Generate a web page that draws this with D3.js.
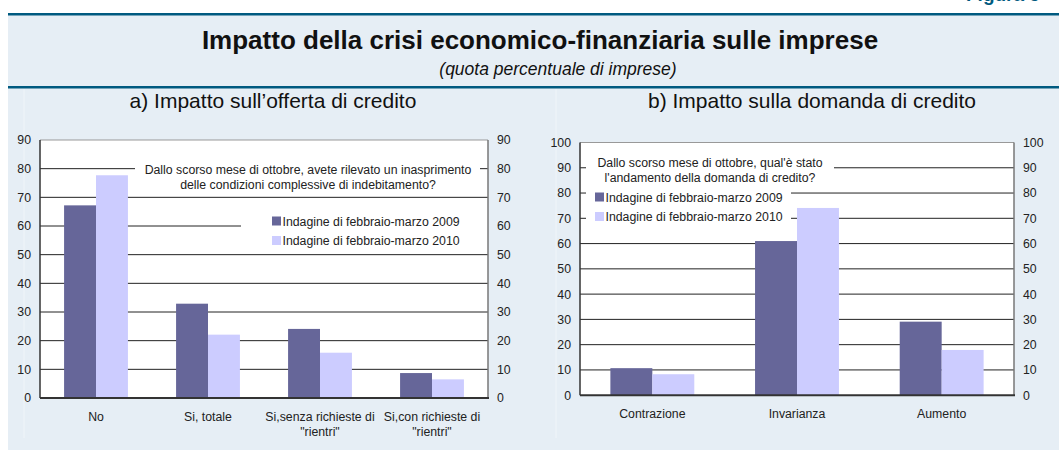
<!DOCTYPE html>
<html>
<head>
<meta charset="utf-8">
<script src="https://cdn.jsdelivr.net/npm/d3@7/dist/d3.min.js"></script>
<style>
  body { margin: 0; background: #fff; }
  svg { display: block; font-family: "Liberation Sans", Arial, sans-serif; }
</style>
</head>
<body>
<svg id="chart" width="1059" height="450"></svg>
<script>
// data
const seriesNames = ["Indagine di febbraio-marzo 2009", "Indagine di febbraio-marzo 2010"];
const colors = ["#666699", "#ccccff"];

const catsOfferta = ["No", "Si, totale", "Si,senza richieste di\n\"rientri\"", "Si,con richieste di\n\"rientri\""];
const offerta2009 = [67.2, 32.9, 24.1, 8.7];
const offerta2010 = [77.7, 22.1, 15.8, 6.5];
const ticksOfferta = [0, 10, 20, 30, 40, 50, 60, 70, 80, 90];

const catsDomanda = ["Contrazione", "Invarianza", "Aumento"];
const domanda2009 = [10.7, 61.0, 29.1];
const domanda2010 = [8.3, 74.1, 17.9];
const ticksDomanda = [0, 10, 20, 30, 40, 50, 60, 70, 80, 90, 100];

const questionOfferta = ["Dallo scorso mese di ottobre, avete rilevato un inasprimento",
                         "delle condizioni complessive di indebitamento?"];
const questionDomanda = ["Dallo scorso mese di ottobre, qual'è stato",
                         "l'andamento della domanda di credito?"];

const svg = d3.select("#chart");
const blue = "#005a80";
const small = 12.3;

// background frame
svg.append("rect").attr("x", 8).attr("y", 15).attr("width", 1051).attr("height", 435).attr("fill", "#e6eef5");
svg.append("rect").attr("x", 8).attr("y", 13).attr("width", 1051).attr("height", 2.5).attr("fill", blue);
svg.append("rect").attr("x", 8).attr("y", 86).attr("width", 1051).attr("height", 2.5).attr("fill", blue);
// figure label, mostly above the visible area as in the reference
svg.append("text").text("Figura 5")
    .attr("x", 966).attr("y", 1)
    .attr("font-size", 19).attr("font-weight", "bold").attr("fill", blue);
// faint inner separators
[24, 556].forEach(function(x) {
    svg.append("line").attr("x1", x).attr("x2", x).attr("y1", 89).attr("y2", 438)
        .attr("stroke", "#f0f5f9").attr("stroke-width", 1);
});

svg.append("text").text("Impatto della crisi economico-finanziaria sulle imprese")
    .attr("x", 540).attr("y", 49).attr("text-anchor", "middle")
    .attr("font-size", 26).attr("font-weight", "bold").attr("fill", "#111");
svg.append("text").text("(quota percentuale di imprese)")
    .attr("x", 558).attr("y", 75).attr("text-anchor", "middle")
    .attr("font-size", 17.5).attr("font-style", "italic").attr("fill", "#111");

function drawPanel(opt) {
    let g = svg.append("g");
    let x0 = d3.scaleBand().domain(opt.cats).range([opt.left, opt.right])
        .paddingInner(opt.pad).paddingOuter(opt.pad / 2);
    let x1 = d3.scaleBand().domain([0, 1]).range([0, x0.bandwidth()]);
    let y = d3.scaleLinear().domain([0, opt.max]).range([opt.bottom, opt.top]);

    g.append("text").text(opt.title)
        .attr("x", opt.titleX).attr("y", 108).attr("text-anchor", "middle")
        .attr("font-size", 21).attr("fill", "#111");

    g.append("rect").attr("x", opt.left).attr("y", opt.top)
        .attr("width", opt.right - opt.left).attr("height", opt.bottom - opt.top)
        .attr("fill", "#fff");

    // gridlines
    g.selectAll("line.grid").data(opt.ticks.filter(function(t) { return t > 0 && t < opt.max; }))
        .enter().append("line")
        .attr("x1", opt.left).attr("x2", opt.right)
        .attr("y1", function(d) { return y(d); }).attr("y2", function(d) { return y(d); })
        .attr("stroke", "#222").attr("stroke-width", 1);

    // white boxes behind question and legend
    opt.boxes.forEach(function(b) {
        g.append("rect").attr("x", b[0]).attr("y", b[1]).attr("width", b[2]).attr("height", b[3]).attr("fill", "#fff");
    });

    // bars
    [opt.s2009, opt.s2010].forEach(function(vals, si) {
        g.selectAll(null).data(vals).enter().append("rect")
            .attr("x", function(d, i) { return x0(opt.cats[i]) + x1(si); })
            .attr("width", x1.bandwidth())
            .attr("y", function(d) { return y(d); })
            .attr("height", function(d) { return opt.bottom - y(d); })
            .attr("fill", colors[si]);
    });

    // frame
    g.append("line").attr("x1", opt.left).attr("x2", opt.right).attr("y1", opt.top).attr("y2", opt.top)
        .attr("stroke", "#999").attr("stroke-width", 1);
    g.append("line").attr("x1", opt.right).attr("x2", opt.right).attr("y1", opt.top).attr("y2", opt.bottom)
        .attr("stroke", "#777").attr("stroke-width", 1.5);
    g.append("line").attr("x1", opt.left).attr("x2", opt.left).attr("y1", opt.top).attr("y2", opt.bottom)
        .attr("stroke", "#333").attr("stroke-width", 1.5);
    g.append("line").attr("x1", opt.left).attr("x2", opt.right + 1).attr("y1", opt.bottom).attr("y2", opt.bottom)
        .attr("stroke", "#333").attr("stroke-width", 2);

    // axes
    let yl = g.append("g").attr("transform", `translate(${opt.left - 9},0)`)
        .call(d3.axisLeft(y).tickValues(opt.ticks).tickSize(0).tickPadding(0));
    let yr = g.append("g").attr("transform", `translate(${opt.right + 9},0)`)
        .call(d3.axisRight(y).tickValues(opt.ticks).tickSize(0).tickPadding(0));
    [yl, yr].forEach(function(a) {
        a.select(".domain").remove();
        a.selectAll("text").attr("font-size", small).attr("fill", "#222")
            .attr("font-family", "'Liberation Sans', Arial, sans-serif");
    });

    // category labels
    let cl = g.selectAll(null).data(opt.cats).enter().append("text")
        .attr("x", function(d) { return x0(d) + x0.bandwidth() / 2; })
        .attr("y", opt.bottom + 23)
        .attr("text-anchor", "middle").attr("font-size", small).attr("fill", "#222");
    cl.each(function(d) {
        let t = d3.select(this);
        d.split("\n").forEach(function(line, i) {
            t.append("tspan").text(line)
                .attr("x", t.attr("x")).attr("dy", i === 0 ? 0 : 15);
        });
    });

    // question text
    opt.question.forEach(function(line, i) {
        g.append("text").text(line)
            .attr("x", opt.qx).attr("y", opt.qy + i * 14.5).attr("text-anchor", "middle")
            .attr("font-size", small).attr("fill", "#222");
    });

    // legend
    seriesNames.forEach(function(name, i) {
        let ly = opt.ly + i * 19.5;
        g.append("rect").attr("x", opt.lx).attr("y", ly - 4.5).attr("width", 9).attr("height", 9)
            .attr("fill", colors[i]);
        g.append("text").text(name)
            .attr("x", opt.lx + 10.5).attr("y", ly + 4.5)
            .attr("font-size", small).attr("fill", "#222");
    });
}

drawPanel({
    title: "a) Impatto sull\u2019offerta di credito", titleX: 273,
    cats: catsOfferta, s2009: offerta2009, s2010: offerta2010,
    ticks: ticksOfferta, max: 90,
    left: 40, right: 488, top: 140, bottom: 398, pad: 0.43,
    boxes: [[135, 158, 345, 34], [241, 206, 247, 36]],
    question: questionOfferta, qx: 308, qy: 174,
    lx: 272, ly: 221
});

drawPanel({
    title: "b) Impatto sulla domanda di credito", titleX: 812,
    cats: catsDomanda, s2009: domanda2009, s2010: domanda2010,
    ticks: ticksDomanda, max: 100,
    left: 580, right: 1014, top: 142.5, bottom: 395.2, pad: 0.42,
    boxes: [[586, 155, 248, 30], [586, 185, 205, 38]],
    question: questionDomanda, qx: 710, qy: 167,
    lx: 595, ly: 197
});
</script>
</body>
</html>
